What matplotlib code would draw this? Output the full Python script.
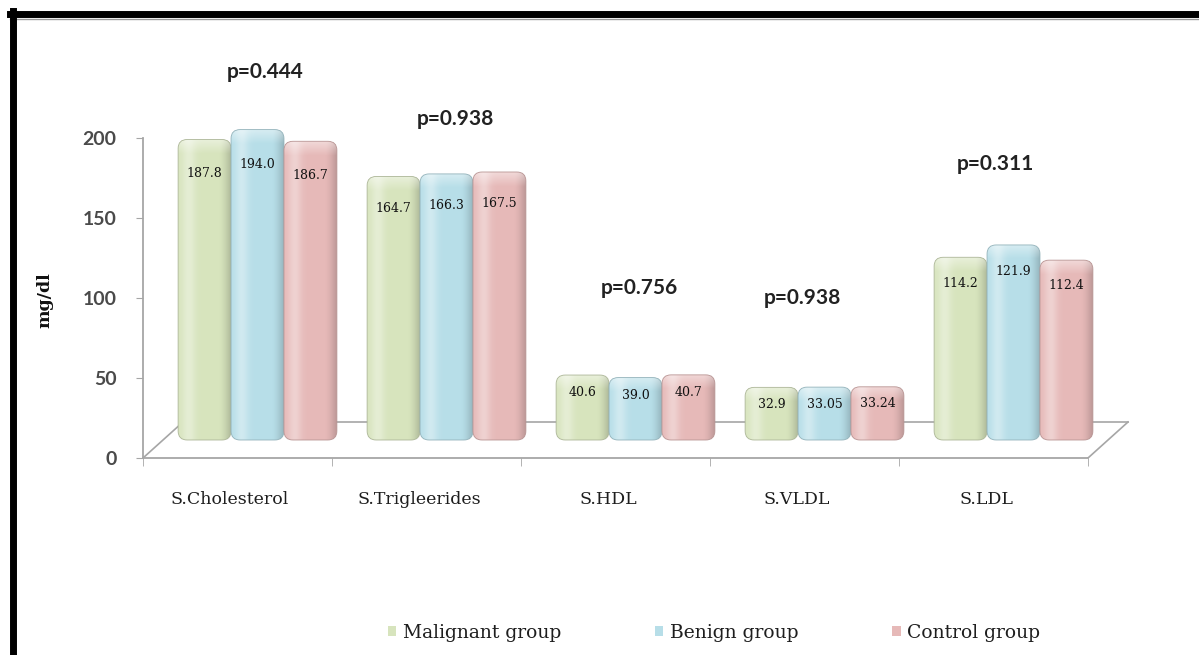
import matplotlib.pyplot as plt
import numpy as np
from matplotlib.patches import FancyBboxPatch, Patch
from matplotlib.lines import Line2D
from matplotlib.colors import to_rgb

categories = ['S.Cholesterol', 'S.Trigleerides', 'S.HDL', 'S.VLDL', 'S.LDL']
groups = ['Malignant group', 'Benign group', 'Control group']
malignant = [187.8, 164.7, 40.6, 32.9, 114.2]
benign = [194.0, 166.3, 39.0, 33.05, 121.9]
control = [186.7, 167.5, 40.7, 33.24, 112.4]
p_values = ['0.444', '0.938', '0.756', '0.938', '0.311']
colors = ['#d7e4bd', '#b7dee8', '#e6b9b8']

# pixel scale of the plot area
PX_X = 189.0   # px per category
PX_Y = 1.6     # px per mg/dl
DX = 40 / PX_X  # depth of the 3d floor
DY = 36 / PX_Y
BW = 0.28
GAP = 0.08

# where the p labels sit (category units, mg/dl)
p_pos = [(0.646, 241), (1.651, 212), (2.624, 106), (3.49, 100), (4.508, 184)]


def fmt(v):
    return '%.2f' % v if round(v, 1) != v else '%.1f' % v


def bar_image(color, height):
    base = np.array(to_rgb(color))
    nx, ny = 64, 256
    t = np.linspace(0, 1, nx)
    light = 0.35 * np.exp(-((t - 0.2) / 0.13) ** 2)
    dark = 0.18 * np.clip((t - 0.78) / 0.22, 0, 1) ** 1.5
    img = np.ones((ny, nx, 3)) * base
    img = img + (1 - img) * light[None, :, None]
    img = img * (1 - dark[None, :, None])
    dist_top = np.linspace(0, height * PX_Y, ny)
    cap = 0.45 * np.clip(1 - dist_top / 14, 0, 1)
    img = img + (1 - img) * cap[:, None, None]
    return np.clip(img, 0, 1)


fig = plt.figure(figsize=(11.99, 6.55), dpi=100)
fig.patch.set_facecolor('white')
ax = fig.add_axes([143 / 1199, (655 - 458) / 655, 1000 / 1199, (458 - 30) / 655])

# floor of the 3d plot
floor_c = '#a6a6a6'
n = len(categories)
ax.plot([0, DX], [0, DY], color=floor_c, lw=1.2, zorder=1)
ax.plot([n, n + DX], [0, DY], color=floor_c, lw=1.2, zorder=1)
ax.plot([DX, n + DX], [DY, DY], color=floor_c, lw=1.2, zorder=1)

r = 9 / PX_X
asp = (9 / PX_Y) / r
z = 2
for j, vals in enumerate([malignant, benign, control]):
    for i, v in enumerate(vals):
        x0 = i + GAP + j * BW + DX / 2
        y0 = DY / 2
        patch = FancyBboxPatch((x0, y0), BW, v,
                               boxstyle=f'round,pad=0,rounding_size={r}',
                               mutation_aspect=asp, facecolor='none',
                               edgecolor=np.array(to_rgb(colors[j])) * 0.8,
                               lw=0.6, zorder=z + 1)
        ax.add_patch(patch)
        im = ax.imshow(bar_image(colors[j], v), extent=(x0, x0 + BW, y0, y0 + v),
                       aspect='auto', zorder=z, interpolation='bilinear')
        im.set_clip_path(patch)
        # labels sit a little lower on the tall bars
        ax.text(x0 + BW / 2, 0.93 * v + 3, fmt(v), ha='center', va='center',
                fontsize=9, family='DejaVu Serif', color='#111111', zorder=z + 2)
        z += 3

for (px, py), p in zip(p_pos, p_values):
    ax.text(px, py, f'p={p}', ha='center', va='center', fontsize=15,
            fontweight='bold', family='Lato', color='#222222')

ax.set_xlim(0, 1000 / PX_X)
ax.set_ylim(0, 428 / PX_Y)

for s in ['top', 'right']:
    ax.spines[s].set_visible(False)
ax.spines['left'].set_bounds(0, 200)
ax.spines['bottom'].set_bounds(0, n)
for s in ['left', 'bottom']:
    ax.spines[s].set_color(floor_c)
    ax.spines[s].set_linewidth(1.3)

ax.set_yticks([0, 50, 100, 150, 200])
ax.tick_params(axis='y', length=5, color=floor_c, pad=14, labelsize=14,
               labelcolor='#4a4a4a')
for lab in ax.get_yticklabels():
    lab.set_family('Lato')
    lab.set_fontweight('bold')

ax.set_xticks(np.arange(n) + 0.46)
ax.set_xticklabels(categories, family='DejaVu Serif', fontsize=12.5, color='#1e1e1e')
ax.set_xticks(np.arange(n + 1), minor=True)
ax.tick_params(axis='x', which='major', length=0, pad=24)
ax.tick_params(axis='x', which='minor', length=6, color=floor_c)

fig.text(45 / 1199, 1 - 300 / 655, 'mg/dl', rotation=90, ha='center', va='center',
         family='DejaVu Serif', fontweight='bold', fontsize=12.5, color='#111111')

handles = [Patch(facecolor=c, edgecolor='none') for c in colors]
fig.legend(handles, groups, loc='center', bbox_to_anchor=(714 / 1199, 22 / 655),
           ncol=3, frameon=False, handlelength=0.45, handleheight=0.45,
           handletextpad=0.35, columnspacing=5.0,
           prop={'family': 'DejaVu Serif', 'size': 13.5})
for t in fig.legends[0].get_texts():
    t.set_color('#1e1e1e')

# black frame on top and left
fig.add_artist(Line2D([10 / 1199, 1], [1 - 14 / 655] * 2, transform=fig.transFigure,
                      color='black', lw=5))
fig.add_artist(Line2D([10 / 1199, 1], [1 - 19 / 655] * 2, transform=fig.transFigure,
                      color='#9a9a9a', lw=1))
fig.add_artist(Line2D([13 / 1199] * 2, [0, 1 - 11 / 655], transform=fig.transFigure,
                      color='black', lw=5))

fig.savefig('out.png', dpi=100)
